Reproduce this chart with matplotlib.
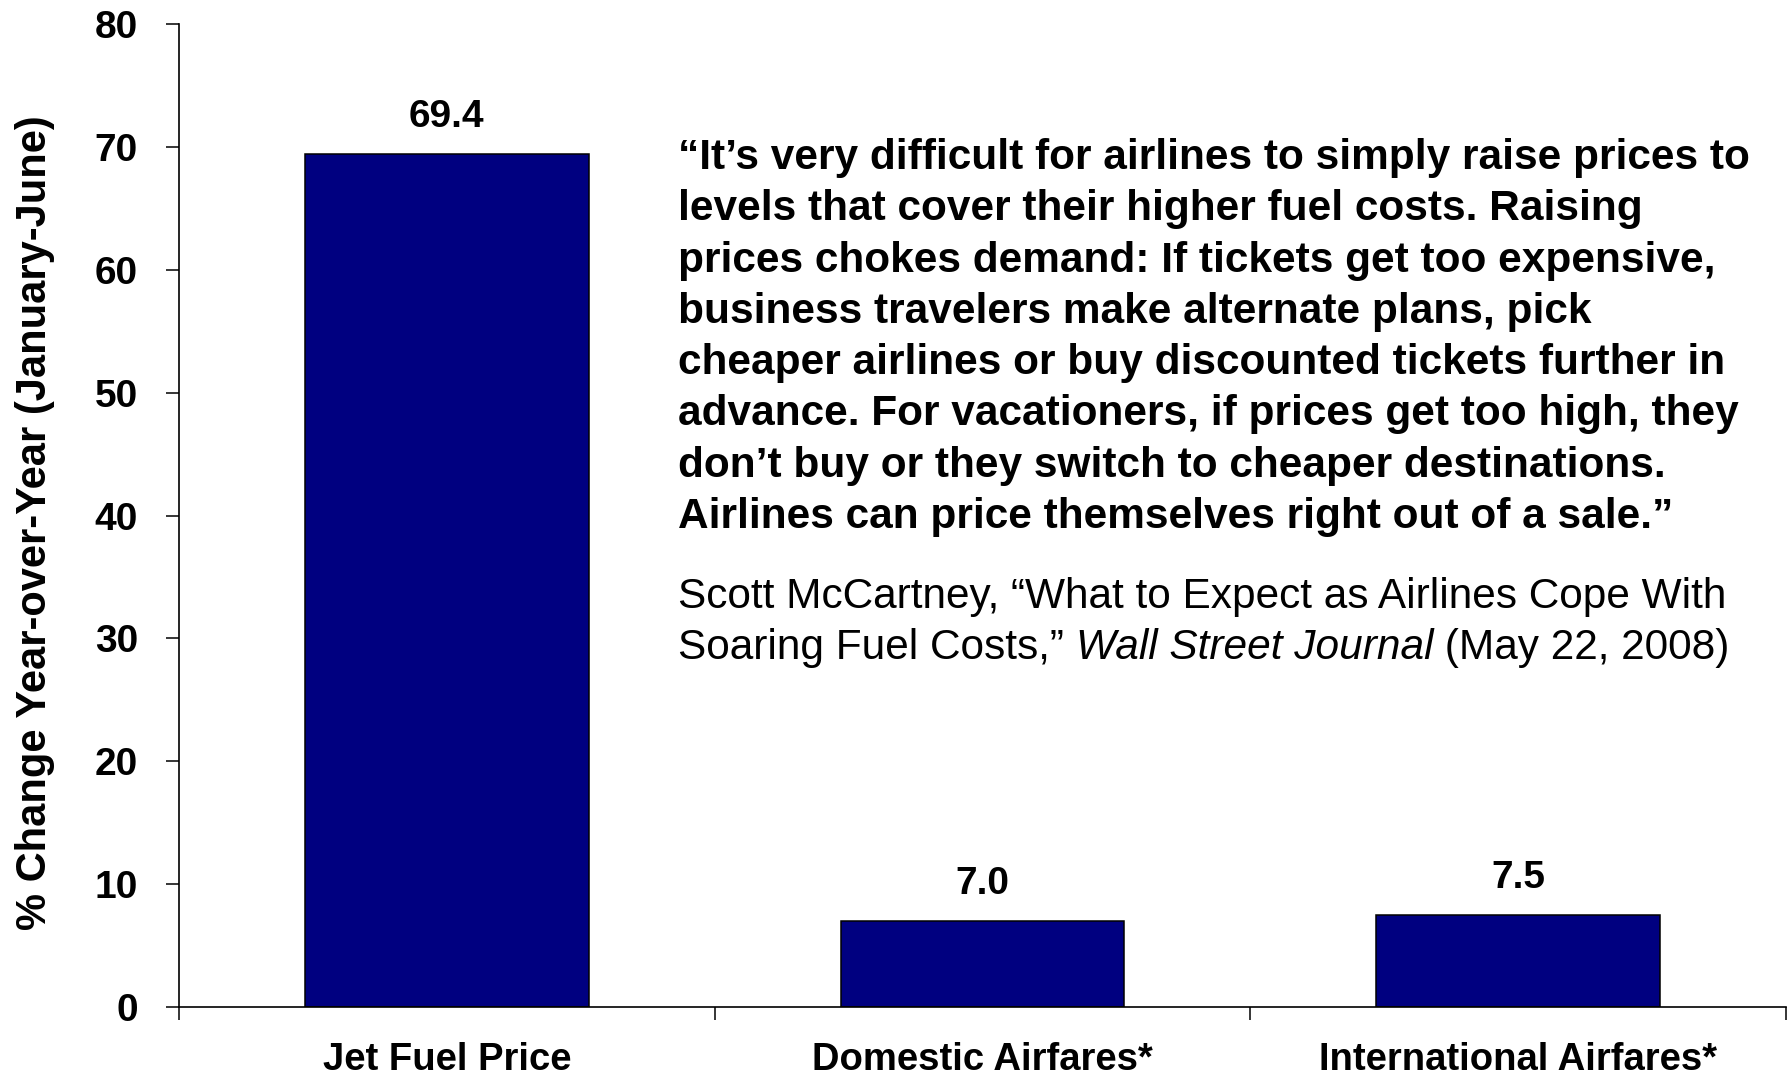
import matplotlib
matplotlib.use("Agg")
import matplotlib.pyplot as plt
from matplotlib.ticker import FixedLocator

plt.rcParams['font.family'] = ['Liberation Sans', 'DejaVu Sans']

# data
categories = ["Jet Fuel Price", "Domestic Airfares*", "International Airfares*"]
values = [69.4, 7.0, 7.5]
value_labels = ["69.4", "7.0", "7.5"]
yticks = [0, 10, 20, 30, 40, 50, 60, 70, 80]

quote_lines = [
    "\u201cIt\u2019s very difficult for airlines to simply raise prices to",
    "levels that cover their higher fuel costs. Raising",
    "prices chokes demand: If tickets get too expensive,",
    "business travelers make alternate plans, pick",
    "cheaper airlines or buy discounted tickets further in",
    "advance. For vacationers, if prices get too high, they",
    "don\u2019t buy or they switch to cheaper destinations.",
    "Airlines can price themselves right out of a sale.\u201d",
]
cite_line1 = "Scott McCartney, \u201cWhat to Expect as Airlines Cope With"
cite_line2 = ["Soaring Fuel Costs,\u201d ", "Wall Street Journal", " (May 22, 2008)"]

W, H = 1788, 1076
fig = plt.figure(figsize=(W / 100, H / 100), dpi=100)
ax = fig.add_axes([179 / W, 1 - 1007 / H, (1786 - 179) / W, (1007 - 24) / H])

x = [i + 0.5 for i in range(len(categories))]
ax.bar(x, values, width=0.53, color="#000080", edgecolor="black", linewidth=1.1, zorder=2)

for xi, v, lab in zip(x, values, value_labels):
    ax.annotate(lab, (xi, v), xytext=(0, 37), textcoords="offset pixels",
                ha="center", va="center", fontsize=28, fontweight="bold")

ax.set_xlim(0, 3)
ax.set_ylim(0, 80)
ax.set_yticks(yticks)
ax.set_xticks(x)
ax.set_xticklabels(categories, fontsize=27.5, fontweight="bold")
ax.xaxis.set_minor_locator(FixedLocator([0, 1, 2, 3]))
ax.tick_params(axis="x", which="major", length=0, pad=25)
ax.tick_params(axis="x", which="minor", length=9.5, width=1.1, direction="out")
ax.tick_params(axis="y", length=9.5, width=1.1, direction="out", pad=20, labelsize=28)
for t in ax.get_yticklabels():
    t.set_fontweight("bold")

for s in ["top", "right"]:
    ax.spines[s].set_visible(False)
for s in ["left", "bottom"]:
    ax.spines[s].set_linewidth(1.2)

ax.set_ylabel("% Change Year-over-Year (January-June)", fontsize=30, fontweight="bold",
              va="center")
ax.yaxis.set_label_coords((35 - 179) / (1786 - 179), (1007 - 523) / (1007 - 24))

# quote block, one baseline per line
qx = 678 / W
for k, line in enumerate(quote_lines):
    fig.text(qx, 1 - (169 + k * 51.3) / H, line, fontsize=30.5, fontweight="bold",
             ha="left", va="baseline")

fig.text(qx, 1 - 608 / H, cite_line1, fontsize=30.5, ha="left", va="baseline")

renderer = fig.canvas.get_renderer()
xpos = 678
styles = ["normal", "italic", "normal"]
for part, st in zip(cite_line2, styles):
    t = fig.text(xpos / W, 1 - 659 / H, part, fontsize=30.5, style=st,
                 ha="left", va="baseline")
    bb = t.get_window_extent(renderer=renderer)
    xpos = bb.x1

fig.savefig("out.png", dpi=100)
